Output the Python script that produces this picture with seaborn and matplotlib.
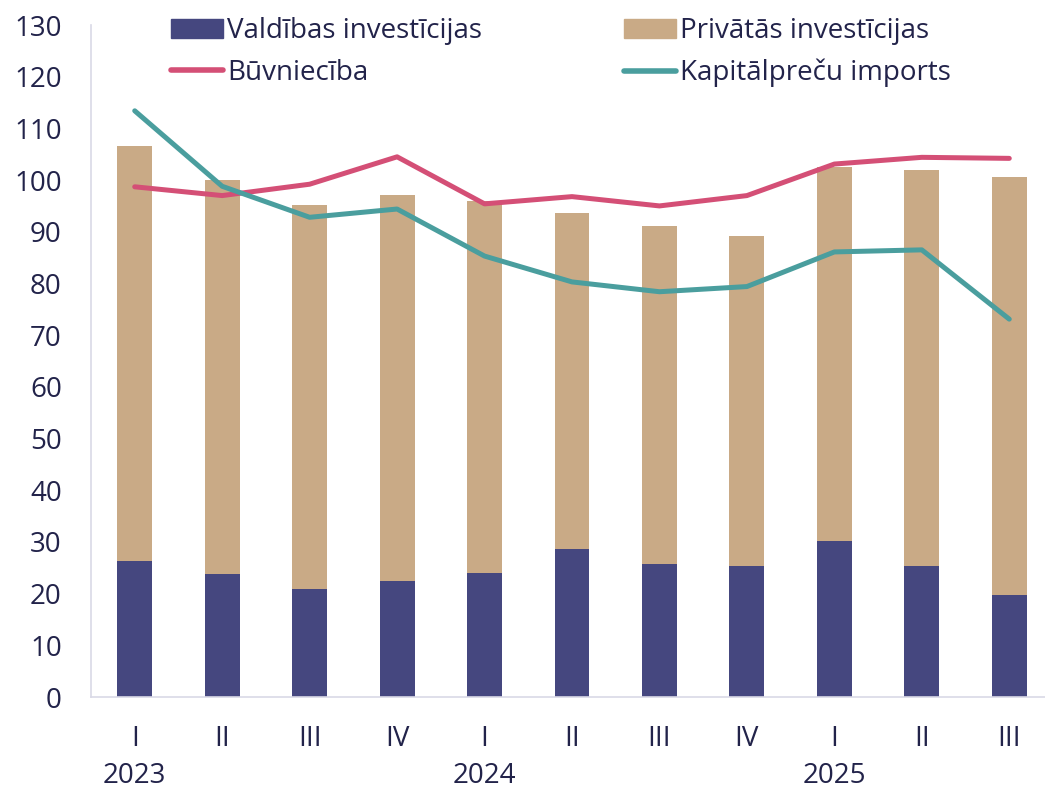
import matplotlib
matplotlib.use("Agg")
import matplotlib.pyplot as plt
from matplotlib.patches import Patch
from matplotlib.lines import Line2D
import seaborn as sns
import pandas as pd

# quarters 2023 Q1 .. 2025 Q3
quarters = ["I", "II", "III", "IV", "I", "II", "III", "IV", "I", "II", "III"]
years = {0: "2023", 4: "2024", 8: "2025"}

valdibas = [26.4, 23.8, 20.8, 22.4, 24.0, 28.6, 25.7, 25.3, 30.2, 25.4, 19.7]
privatas = [80.2, 76.2, 74.4, 74.7, 72.0, 65.1, 65.5, 63.9, 72.4, 76.5, 80.9]
buvnieciba = [98.7, 97.0, 99.2, 104.5, 95.4, 96.8, 95.0, 97.0, 103.1, 104.4, 104.2]
kapitalpreces = [113.4, 98.8, 92.8, 94.4, 85.3, 80.3, 78.4, 79.4, 86.1, 86.5, 73.1]

c_gov = "#45477f"
c_priv = "#c9aa86"
c_bud = "#d44f76"
c_kap = "#4a9e9e"
c_text = "#22234a"

sns.set_theme(style="white")
plt.rcParams["font.family"] = ["Open Sans", "DejaVu Sans"]

df = pd.DataFrame({
    "pos": list(range(len(quarters))),
    "gov": valdibas,
    "total": [g + p for g, p in zip(valdibas, privatas)],
    "bud": buvnieciba,
    "kap": kapitalpreces,
})

fig = plt.figure(figsize=(10.45, 7.89), dpi=100)
ax = fig.add_axes([91 / 1045, 92 / 789, 962 / 1045, 672 / 789])

sns.barplot(data=df, x="pos", y="total", color=c_priv, width=0.4,
            saturation=1, linewidth=0, ax=ax)
sns.barplot(data=df, x="pos", y="gov", color=c_gov, width=0.4,
            saturation=1, linewidth=0, ax=ax)
sns.lineplot(data=df, x="pos", y="bud", color=c_bud, lw=3.6, ax=ax)
sns.lineplot(data=df, x="pos", y="kap", color=c_kap, lw=3.6, ax=ax)

ax.set_xlim(-0.5, 10.5)
ax.set_ylim(0, 130)
ax.set_yticks(range(0, 131, 10))
ax.set_xticks(range(len(quarters)))
labels = [q + ("\n" + years[i] if i in years else "") for i, q in enumerate(quarters)]
ax.set_xticklabels(labels, linespacing=1.42, va="top")
ax.set_xlabel("")
ax.set_ylabel("")
ax.tick_params(axis="y", labelsize=20, colors=c_text, length=0, pad=21)
ax.tick_params(axis="x", labelsize=20, colors=c_text, length=0, pad=20)

for s in ["top", "right"]:
    ax.spines[s].set_visible(False)
for s in ["left", "bottom"]:
    ax.spines[s].set_color("#d9d9e6")
    ax.spines[s].set_linewidth(1.2)

handles = [
    Patch(color=c_gov, label="Valdības investīcijas"),
    Line2D([0], [0], color=c_bud, lw=4, label="Būvniecība"),
    Patch(color=c_priv, label="Privātās investīcijas"),
    Line2D([0], [0], color=c_kap, lw=4, label="Kapitālpreču imports"),
]
leg = fig.legend(handles=handles, ncol=2, loc="upper left",
                 bbox_to_anchor=(171 / 1045, 1 - 17 / 789),
                 frameon=False, fontsize=20, handlelength=1.87,
                 handleheight=0.65, handletextpad=0.15, borderpad=0,
                 borderaxespad=0, columnspacing=5.1, labelspacing=0.5)
for t in leg.get_texts():
    t.set_color(c_text)

fig.savefig("out.png", dpi=100)
